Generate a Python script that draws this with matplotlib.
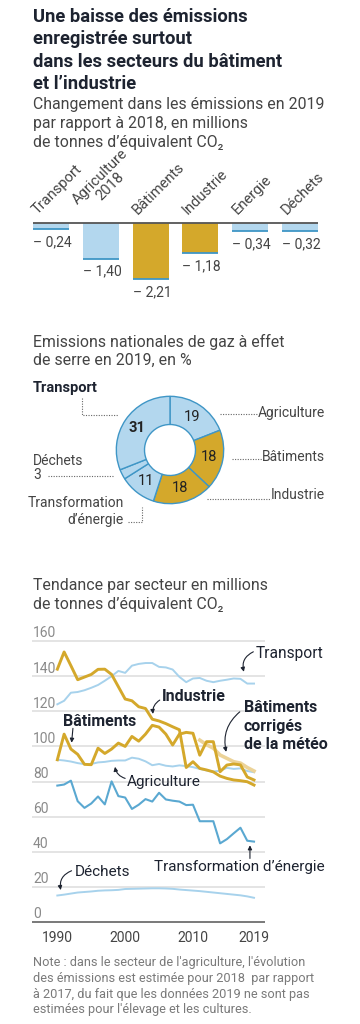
import matplotlib
matplotlib.use('Agg')
import matplotlib.pyplot as plt
import numpy as np

plt.rcParams['font.family'] = ['Roboto', 'DejaVu Sans']

W, H = 360, 1024

NAVY = '#1d2330'
GREY = '#444444'
LIGHT_BLUE = '#b3d7ee'
LINE_BLUE = '#a7d2ec'
EDGE_BLUE = '#3f96c6'
MID_BLUE = '#5aa8d1'
GOLD = '#d4a82b'
LIGHT_GOLD = '#ecd398'

# change 2019 vs 2018 (Mt CO2e)
bar_labels = ['Transport', 'Agriculture\n2018', 'Bâtiments', 'Industrie', 'Energie', 'Déchets']
bar_values = [-0.24, -1.40, -2.21, -1.18, -0.34, -0.32]
bar_text = ['– 0,24', '– 1,40', '– 2,21', '– 1,18', '– 0,34', '– 0,32']
bar_gold = [False, False, True, True, False, False]

# share of national emissions 2019 (%)
donut_names = ['Agriculture', 'Bâtiments', 'Industrie', 'Transformation d’énergie', 'Déchets', 'Transport']
donut_values = [19, 18, 18, 11, 3, 31]
donut_gold = [False, True, True, False, False, False]

# trends 1990-2019
years = list(range(1990, 2020))
transport = [124, 126, 130.6, 131, 132, 133.4, 135, 137.4, 140, 143, 141.9, 146, 147, 147.5, 147.5,
             145.3, 145, 143.8, 139.6, 136.6, 138.7, 139, 137.4, 136.6, 137.4, 138, 138.7, 138.5, 135.8, 135.8]
industrie = [144, 153.8, 146, 138, 139.5, 141, 143.9, 144, 141, 134, 127, 126, 122.6, 121.6, 115.5,
             114.5, 113, 111.2, 109.5, 88, 91.3, 87.5, 86.6, 85.5, 83.1, 81.8, 80.9, 80.5, 79.9, 78]
batiments = [92.4, 107, 98.5, 95.5, 89.8, 89.6, 99, 96, 98.5, 101.9, 100, 105.7, 103, 107, 112,
             111, 107, 100.8, 107, 108, 107.5, 95, 102.7, 102.7, 85.6, 89.4, 90, 89.5, 82.6, 80.9]
agriculture = [92.4, 92, 91.4, 90.5, 89.9, 90, 90.9, 91.2, 91.8, 92, 92, 93.6, 93, 91.5, 89.3,
               90, 89, 88.6, 89.2, 88.8, 88.2, 87.2, 86.3, 85.7, 86.2, 87.8, 87.2, 87.5, 86, 85.3]
energie = [77.7, 78.3, 80.5, 68.8, 65, 67.5, 71.5, 67, 80.1, 71.7, 70.9, 64.4, 66.8, 70, 68.6,
           73.6, 69.8, 69.1, 68.6, 66.6, 66.8, 57.4, 57.4, 57.4, 44.8, 47.2, 50.5, 53.7, 46.3, 45.8]
dechets = [15.1, 15.6, 16.2, 16.8, 17.1, 17.4, 17.8, 18.0, 18.1, 18.3, 18.8, 18.9, 19.0, 19.1, 19.2,
           19.2, 19.1, 18.9, 18.5, 18.2, 17.9, 17.6, 17.2, 16.8, 16.4, 16.0, 15.6, 15.2, 14.6, 13.8]
years_corr = list(range(2011, 2020))
batiments_corr = [103.6, 101, 99, 95.1, 93.2, 91.3, 90.5, 88, 86]
y_ticks = [0, 20, 40, 60, 80, 100, 120, 140, 160]
x_ticks = [1990, 2000, 2010, 2019]


def rect(left, top, right, bottom):
    return [left / W, 1 - bottom / H, (right - left) / W, (bottom - top) / H]


fig = plt.figure(figsize=(W / 100, H / 100), dpi=100)

# ---- bar chart ----
ax1 = fig.add_axes(rect(33, 215, 318, 289.5))
ax1.set_xlim(-0.36, 5.36)
ax1.set_ylim(-2.6, 0.3)
ax1.axis('off')
xs = range(len(bar_values))
w = 0.72
for x, v, g, lab, t in zip(xs, bar_values, bar_gold, bar_labels, bar_text):
    ax1.bar(x, v, width=w, color=GOLD if g else LIGHT_BLUE, zorder=1)
    ax1.hlines(v, x - w / 2, x + w / 2, color=EDGE_BLUE, lw=1.3, zorder=2)
    ax1.text(x - w / 2 + 0.1, 0.3, lab, rotation=45, rotation_mode='anchor', ha='left',
             va='baseline', multialignment='center', fontsize=10.6, color=GREY,
             linespacing=1.0, clip_on=False)
    ax1.text(x - w / 2, v - 0.66, t, ha='left', va='baseline', fontsize=10, color=GREY,
             clip_on=False)
ax1.axhline(0, color='#555555', lw=1.3, zorder=3)

# ---- donut ----
S = 134.2
ax2 = fig.add_axes(rect(170 - S / 2, 450 - S / 2, 170 + S / 2, 450 + S / 2))
ax2.set_xlim(-1.1, 1.1)
ax2.set_ylim(-1.1, 1.1)
ax2.set_aspect('equal')
ax2.axis('off')
wedges, _ = ax2.pie(donut_values, startangle=90, counterclock=False, radius=1,
                    colors=[GOLD if g else LIGHT_BLUE for g in donut_gold],
                    wedgeprops=dict(width=0.525, edgecolor=EDGE_BLUE, linewidth=1.0))
for wdg, v, name in zip(wedges, donut_values, donut_names):
    if v < 5:
        continue
    a = np.deg2rad((wdg.theta1 + wdg.theta2) / 2)
    ax2.text(0.74 * np.cos(a), 0.74 * np.sin(a), str(v), ha='center', va='center',
             fontsize=10.5, color='#222222',
             fontweight='bold' if name == 'Transport' else 'normal')

# ---- line chart ----
ax3 = fig.add_axes(rect(31.7, 632.3, 265, 930.8))
ax3.set_xlim(1986.22, 2020.62)
ax3.set_ylim(-5, 165)
ax3.axis('off')
for t in y_ticks:
    ax3.axhline(t, color='#555555' if t == 0 else '#dcdcdc', lw=1.1, zorder=0)
    ax3.text(1986.4, t + 2.1, str(t), ha='left', va='baseline', fontsize=10, color='#8a8a8a')
for t in x_ticks:
    ax3.text(t, -9.1, str(t), ha='center', va='center', fontsize=10, color=GREY, clip_on=False)

ax3.plot(years, dechets, color=LINE_BLUE, lw=1.4)
ax3.plot(years, transport, color=LINE_BLUE, lw=1.4)
ax3.plot(years, agriculture, color=LINE_BLUE, lw=1.4)
ax3.plot(years, energie, color=MID_BLUE, lw=1.5)
ax3.plot(years_corr, batiments_corr, color=LIGHT_GOLD, lw=2.6)
ax3.plot(years, batiments, color=GOLD, lw=2.1)
ax3.plot(years, industrie, color=GOLD, lw=2.1)

arrow = dict(arrowstyle='-|>', color=NAVY, lw=0.8, mutation_scale=6, shrinkA=0, shrinkB=0)


def arr(start, end, rad=0.0):
    ax3.annotate('', xy=end, xytext=start, annotation_clip=False,
                 arrowprops=dict(arrow, connectionstyle='arc3,rad=%s' % rad))


ax3.text(2019.2, 153, 'Transport', ha='left', va='center', fontsize=11.2, color=NAVY, clip_on=False)
arr((2018.9, 153.9), (2017.5, 142.5), 0.4)
ax3.text(2005.4, 128.7, 'Industrie', ha='left', va='center', fontsize=11.5, color=NAVY,
         fontweight='bold')
arr((2005.1, 126.4), (2004.1, 118.5), 0.3)
ax3.text(1990.9, 114, 'Bâtiments', ha='left', va='center', fontsize=11.5, color=NAVY,
         fontweight='bold')
arr((1992.3, 110.3), (1992.1, 102.1), 0.0)
ax3.text(2017.5, 126.4, 'Bâtiments\ncorrigés\nde la météo', ha='left', va='top', fontsize=11.5,
         color=NAVY, fontweight='bold', linespacing=1.3, clip_on=False)
arr((2016.9, 119.7), (2014.9, 96.9), 0.3)
ax3.text(2000.25, 79.5, 'Agriculture', ha='left', va='center', fontsize=11, color=NAVY)
arr((2000, 81.8), (1998.5, 88.4), -0.3)
ax3.text(2004.2, 31.1, 'Transformation d’énergie', ha='left', va='center', fontsize=11,
         color=NAVY, clip_on=False)
arr((2018.4, 36.2), (2018.4, 43.7), 0.0)
ax3.text(1992.5, 28.6, 'Déchets', ha='left', va='center', fontsize=11, color=NAVY)
arr((1992.1, 29.2), (1990.5, 18.2), 0.4)

# ---- overlay for free text and donut leaders ----
ov = fig.add_axes([0, 0, 1, 1])
ov.set_xlim(0, W)
ov.set_ylim(H, 0)
ov.axis('off')

title = ['Une baisse des émissions', 'enregistrée surtout',
         'dans les secteurs du bâtiment', 'et l’industrie']
for i, line in enumerate(title):
    ov.text(33, 21.7 + i * 22.5, line, fontsize=13.2, fontweight='bold', color=NAVY,
            va='baseline')
sub1 = ['Changement dans les émissions en 2019', 'par rapport à 2018, en millions',
        'de tonnes d’équivalent CO₂']
for i, line in enumerate(sub1):
    ov.text(33, 109 + i * 19, line, fontsize=11.4, color=GREY, va='baseline')
sub2 = ['Emissions nationales de gaz à effet', 'de serre en 2019, en %']
for i, line in enumerate(sub2):
    ov.text(33, 346.7 + i * 18.5, line, fontsize=11.4, color=GREY, va='baseline')
sub3 = ['Tendance par secteur en millions', 'de tonnes d’équivalent CO₂']
for i, line in enumerate(sub3):
    ov.text(33, 590 + i * 18.5, line, fontsize=11.4, color=GREY, va='baseline')
notes = ['Note : dans le secteur de l\'agriculture, l\'évolution',
         'des émissions est estimée pour 2018  par rapport',
         'à 2017, du fait que les données 2019 ne sont pas',
         'estimées pour l\'élevage et les cultures.']
for i, line in enumerate(notes):
    ov.text(33, 962.7 + i * 15.7, line, fontsize=9.2, color='#7a7a7a', va='center')

dot = dict(color='#666666', lw=0.8, linestyle=(0, (1, 1.3)))
ov.plot([81.7, 81.7, 118], [398, 415, 415], **dot)
ov.plot([220, 258], [414, 414], **dot)
ov.plot([232, 263], [459, 459], **dot)
ov.plot([207, 271], [499, 499], **dot)
ov.plot([48, 113], [476, 476], **dot)
ov.plot([128, 141.7, 141.7], [521.7, 521.7, 506.7], **dot)
ov.text(33, 392, 'Transport', fontsize=10.5, fontweight='bold', color=NAVY, va='baseline')
ov.text(325, 413, 'Agriculture', fontsize=10, color=GREY, ha='right', va='center')
ov.text(325, 457, 'Bâtiments', fontsize=10, color=GREY, ha='right', va='center')
ov.text(325, 495, 'Industrie', fontsize=10, color=GREY, ha='right', va='center')
ov.text(33, 461, 'Déchets', fontsize=10, color=GREY, ha='left', va='center')
ov.text(33, 475, '3', fontsize=10, color=GREY, ha='left', va='center')
ov.text(124, 502.7, 'Transformation', fontsize=10, color=GREY, ha='right', va='center')
ov.text(124, 520, 'd’énergie', fontsize=10, color=GREY, ha='right', va='center')

fig.savefig('out.png', dpi=100)
